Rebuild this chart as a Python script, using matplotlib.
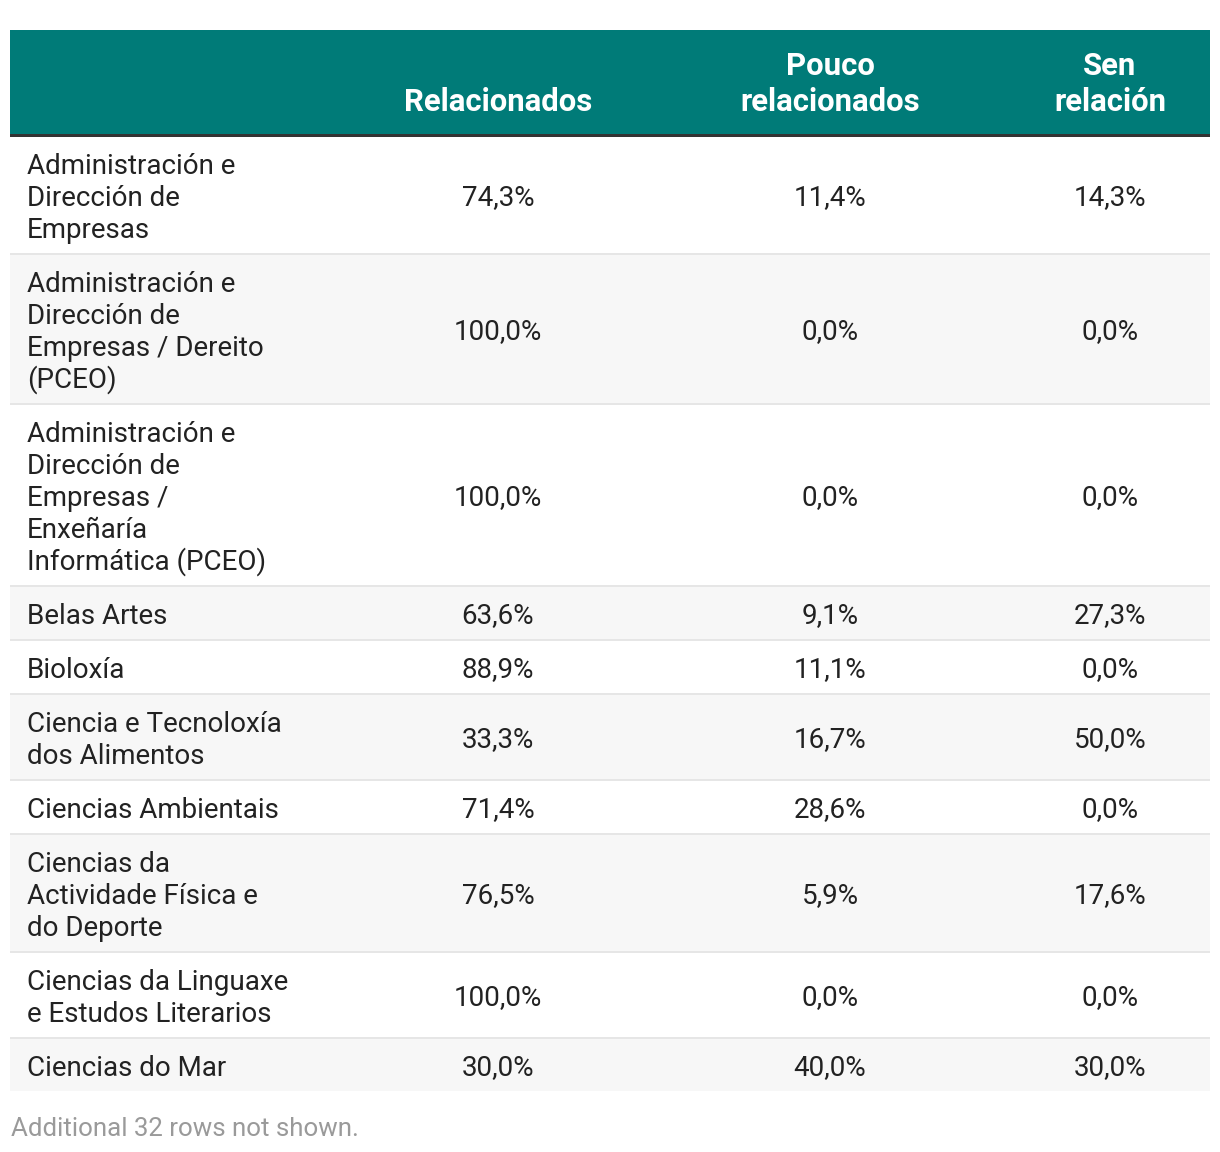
import matplotlib
matplotlib.use("Agg")
import matplotlib.pyplot as plt
from matplotlib.patches import Rectangle

plt.rcParams['font.family'] = ['Roboto', 'DejaVu Sans']

headers = ["", "Relacionados", "Pouco\nrelacionados", "Sen\nrelación"]
labels = [
    "Administración e\nDirección de\nEmpresas",
    "Administración e\nDirección de\nEmpresas / Dereito\n(PCEO)",
    "Administración e\nDirección de\nEmpresas /\nEnxeñaría\nInformática (PCEO)",
    "Belas Artes",
    "Bioloxía",
    "Ciencia e Tecnoloxía\ndos Alimentos",
    "Ciencias Ambientais",
    "Ciencias da\nActividade Física e\ndo Deporte",
    "Ciencias da Linguaxe\ne Estudos Literarios",
    "Ciencias do Mar",
]
relacionados = ["74,3%", "100,0%", "100,0%", "63,6%", "88,9%", "33,3%", "71,4%", "76,5%", "100,0%", "30,0%"]
pouco = ["11,4%", "0,0%", "0,0%", "9,1%", "11,1%", "16,7%", "28,6%", "5,9%", "0,0%", "40,0%"]
sen = ["14,3%", "0,0%", "0,0%", "27,3%", "0,0%", "50,0%", "0,0%", "17,6%", "0,0%", "30,0%"]
footer = "Additional 32 rows not shown."

W, H = 1220, 1152
fig = plt.figure(figsize=(W / 100, H / 100), dpi=100)
ax = fig.add_axes([0, 0, 1, 1])
ax.set_xlim(0, W)
ax.set_ylim(H, 0)
ax.axis('off')

x0, x1 = 10, 1210
col_x = [27, 498, 830, 1110]
fs = 20
hfs = 22.4
lh = 32
teal = '#007B78'
txt = '#222222'

# header
ax.add_patch(Rectangle((x0, 30), x1 - x0, 104, color=teal, lw=0))
ax.add_patch(Rectangle((x0, 134), x1 - x0, 3, color='#333333', lw=0))
for j, h in enumerate(headers):
    if not h:
        continue
    lines = h.split('\n')
    n = len(lines)
    for i, ln in enumerate(lines):
        y = 102 - (n - 1 - i) * 36
        ax.text(col_x[j], y, ln, ha='center', va='center', color='white',
                fontsize=hfs, fontweight='bold')

y = 137
for r, lab in enumerate(labels):
    lines = lab.split('\n')
    n = len(lines)
    h = 20 + lh * n
    bg = '#ffffff' if r % 2 == 0 else '#f7f7f7'
    ax.add_patch(Rectangle((x0, y), x1 - x0, h, color=bg, lw=0))
    cy = y + h / 2 + 3
    for i, ln in enumerate(lines):
        ax.text(col_x[0], cy + (i - (n - 1) / 2) * lh, ln, ha='left', va='center',
                color=txt, fontsize=fs)
    for j, v in zip([1, 2, 3], [relacionados[r], pouco[r], sen[r]]):
        ax.text(col_x[j], cy, v, ha='center', va='center', color=txt, fontsize=fs)
    y += h
    if r < len(labels) - 1:
        ax.add_patch(Rectangle((x0, y), x1 - x0, 2, color='#e6e6e6', lw=0))
        y += 2

ax.text(11, 1129, footer, ha='left', va='center', color='#9a9a9a', fontsize=fs * 0.93)

fig.savefig('out.png', dpi=100, facecolor='white')
